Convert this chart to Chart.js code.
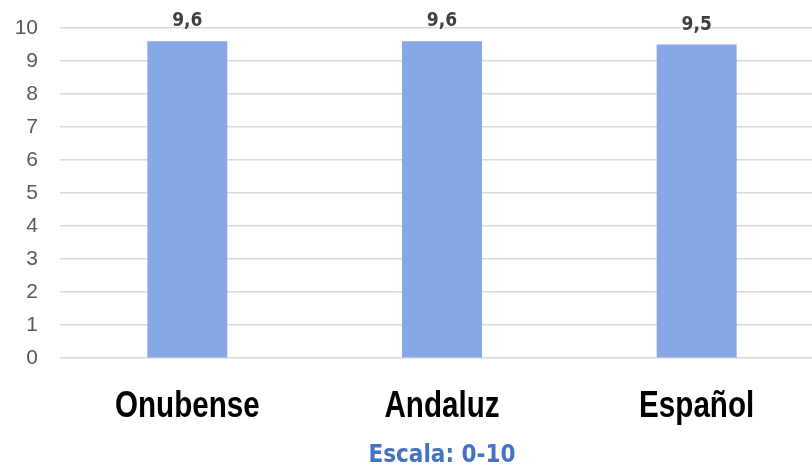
<!DOCTYPE html>
<html>
<head>
<meta charset="utf-8">
<script src="https://cdn.jsdelivr.net/npm/chart.js@4.4.0/dist/chart.umd.min.js"></script>
<style>
  html, body { margin: 0; padding: 0; background: #ffffff; overflow: hidden; }
  #wrap { width: 812px; height: 471px; position: relative; overflow: hidden; }
  #c { display: block; }
</style>
</head>
<body>
<div id="wrap"><canvas id="c" width="824" height="471"></canvas></div>
<script>
const categories = ['Onubense', 'Andaluz', 'Español'];
const values = [9.6, 9.6, 9.5];
const yTicks = [0, 1, 2, 3, 4, 5, 6, 7, 8, 9, 10];
const titleText = 'Escala: 0-10';

const condensed = "'DejaVu Sans Condensed', 'DejaVu Sans', sans-serif";
const arial = "'Liberation Sans', Arial, sans-serif";

const valueLabels = {
  id: 'valueLabels',
  afterDatasetsDraw(chart) {
    const ctx = chart.ctx;
    const meta = chart.getDatasetMeta(0);
    ctx.save();
    ctx.font = "bold 19px " + condensed;
    ctx.fillStyle = '#404040';
    ctx.textAlign = 'center';
    ctx.textBaseline = 'alphabetic';
    meta.data.forEach((bar, i) => {
      const v = chart.data.datasets[0].data[i];
      ctx.fillText(String(v).replace('.', ','), bar.x, bar.y - 15);
    });
    ctx.restore();
  }
};

// draws the category labels in a narrow bold face at the x scale's tick positions
const narrowTicks = {
  id: 'narrowTicks',
  afterDraw(chart) {
    const ctx = chart.ctx;
    const xs = chart.scales.x;
    ctx.save();
    ctx.font = "bold 37px " + arial;
    ctx.fillStyle = '#000000';
    ctx.textAlign = 'center';
    ctx.textBaseline = 'alphabetic';
    const y = xs.top + 59;
    xs.ticks.forEach((t, i) => {
      const x = xs.getPixelForTick(i);
      ctx.save();
      ctx.translate(x, y);
      ctx.scale(0.8, 1);
      ctx.fillText(chart.data.labels[i], 0, 0);
      ctx.restore();
    });
    ctx.restore();
  }
};

new Chart(document.getElementById('c'), {
  type: 'bar',
  data: {
    labels: categories,
    datasets: [{
      data: values,
      backgroundColor: '#86a8e7',
      borderWidth: 0,
      categoryPercentage: 1.0,
      barPercentage: 0.314
    }]
  },
  options: {
    responsive: false,
    animation: false,
    devicePixelRatio: 1,
    layout: { padding: { top: 28, right: 0, left: 0, bottom: 0 } },
    plugins: {
      legend: { display: false },
      tooltip: { enabled: false },
      title: {
        display: true,
        fullSize: false,
        text: titleText,
        position: 'bottom',
        color: '#4472c4',
        font: { family: condensed, size: 24, weight: 'bold' },
        padding: { top: 0, bottom: 1 }
      }
    },
    scales: {
      x: {
        grid: { display: false },
        border: { display: false },
        ticks: {
          color: 'rgba(0,0,0,0)',
          font: { family: arial, size: 36, weight: 'bold' },
          padding: 25,
          maxRotation: 0
        },
        afterFit(scale) {
          scale.height = 83;
          scale.paddingLeft = 0;
          scale.paddingRight = 0;
        }
      },
      y: {
        min: 0,
        max: 10,
        afterBuildTicks(scale) { scale.ticks = yTicks.map(v => ({ value: v })); },
        grid: { color: '#d9d9d9', lineWidth: 1.5, drawTicks: false },
        border: { display: false },
        ticks: {
          color: '#595959',
          font: { family: arial, size: 21 },
          padding: 22
        },
        afterFit(scale) {
          scale.width = 60;
          scale.paddingTop = 0;
          scale.paddingBottom = 0;
        }
      }
    }
  },
  plugins: [valueLabels, narrowTicks]
});
</script>
</body>
</html>
